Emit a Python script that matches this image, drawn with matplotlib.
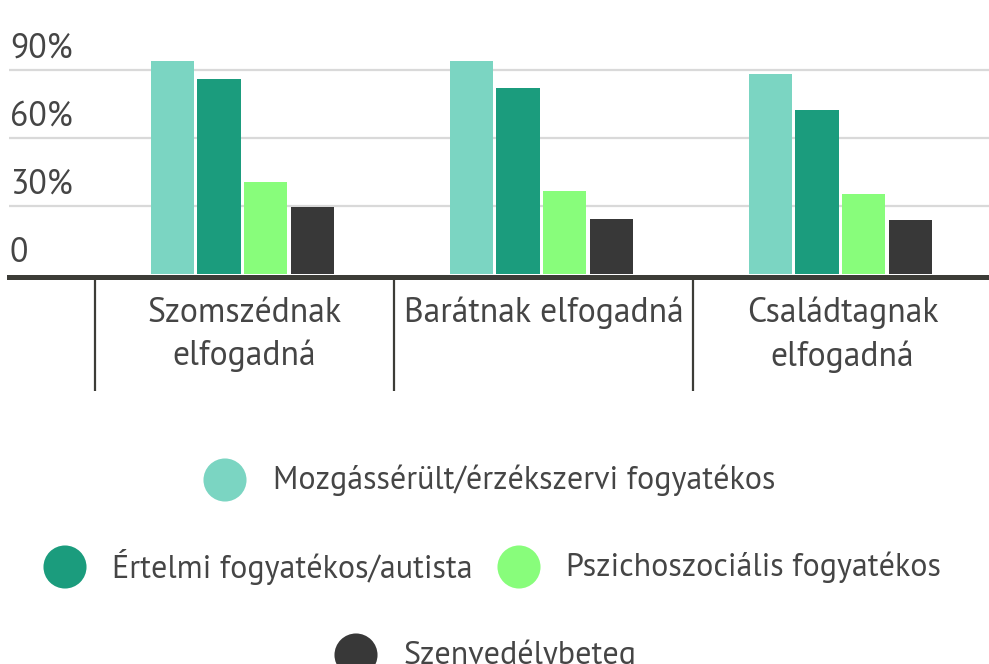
import matplotlib
matplotlib.use("Agg")
import numpy as np
import matplotlib.pyplot as plt
from matplotlib import transforms

plt.rcParams['font.family'] = ['PT Sans', 'Open Sans', 'DejaVu Sans']

categories = ["Szomszédnak\nelfogadná", "Barátnak elfogadná", "Családtagnak\nelfogadná"]
series_names = ["Mozgássérült/érzékszervi fogyatékos", "Értelmi fogyatékos/autista",
                "Pszichoszociális fogyatékos", "Szenvedélybeteg"]
colors = ["#7bd5c2", "#1b9c7d", "#88fd7b", "#383838"]

mozgas = [94.1, 94.1, 88.4]
ertelmi = [86.2, 82.2, 72.2]
pszicho = [40.6, 36.6, 35.4]
szenved = [29.7, 24.4, 23.7]
values = [mozgas, ertelmi, pszicho, szenved]

yticks = [0, 30, 60, 90]
ytick_labels = ["0", "30%", "60%", "90%"]

W, H = 989, 664
text_col = "#454545"
axis_col = "#3c3c37"
fs_axis = 24.2
fs_legend = 23.0

fig = plt.figure(figsize=(W / 100, H / 100), dpi=100)
ax = fig.add_axes([9 / W, 1 - 274 / H, (W - 9) / W, 274 / H])

x = np.arange(len(categories))
offsets = np.array([-1.5, -0.5, 0.5, 1.5]) * 0.157 - 0.0067
for i in range(len(values)):
    ax.bar(x + offsets[i], values[i], width=0.144, color=colors[i], zorder=2)

ax.set_xlim(-0.7876, 2.490)
ax.set_ylim(0, 274 / 2.267)

# grid lines (no line at 0, the axis line sits there)
for t in yticks[1:]:
    ax.axhline(t, color="#d9d9d9", lw=1.6, zorder=1)

# y labels sit above the grid lines, left aligned
trans = transforms.blended_transform_factory(ax.transAxes, ax.transData)
for t, lab in zip(yticks, ytick_labels):
    ax.annotate(lab, (0.001, t), xycoords=trans, xytext=(0, 9), textcoords="offset points",
                ha="left", va="baseline", fontsize=fs_axis, color=text_col)

for s in ["top", "right", "left"]:
    ax.spines[s].set_visible(False)
ax.spines["bottom"].set_color(axis_col)
ax.spines["bottom"].set_linewidth(3.6)
ax.spines["bottom"].set_position(("outward", 2.2))
ax.set_yticks([])

# category dividers
ax.set_xticks(np.arange(-0.5, len(categories) - 0.5, 1))
ax.set_xticklabels([])
ax.tick_params(axis="x", which="major", length=82, width=1.6, color=axis_col, direction="out")
ax.set_xticks(x, categories, minor=True)
ax.tick_params(axis="x", which="minor", length=0, pad=14, labelsize=fs_axis, labelcolor=text_col)
for lab in ax.get_xticklabels(minor=True):
    lab.set_linespacing(1.45)

# legend, drawn by hand in pixel space
lax = fig.add_axes([0, 0, 1, 1])
lax.set_xlim(0, W)
lax.set_ylim(H, 0)
lax.axis("off")
legend_pos = [(225, 480, 273), (65, 567, 112), (519, 567, 566), (356, 655, 404)]
for (cx, cy, tx), name, c in zip(legend_pos, series_names, colors):
    lax.scatter([cx], [cy], s=31 ** 2, color=c, edgecolors="none")
    lax.text(tx, cy, name, ha="left", va="center", fontsize=fs_legend, color=text_col)

fig.savefig("out.png")
